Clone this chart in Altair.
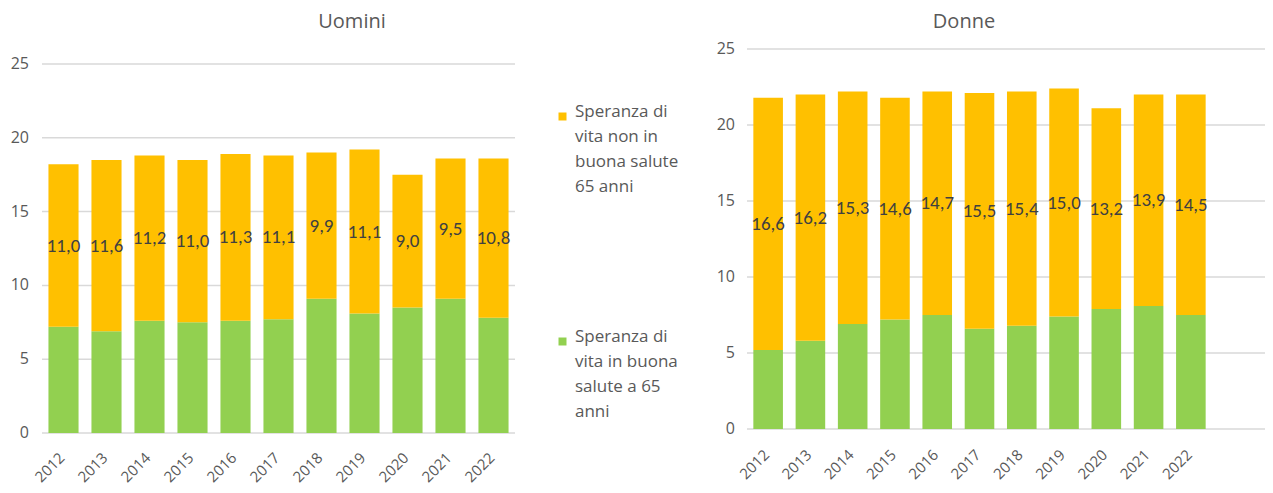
import altair as alt
import pandas as pd

anni = [str(y) for y in range(2012, 2023)]
uomini_buona = [7.2, 6.9, 7.6, 7.5, 7.6, 7.7, 9.1, 8.1, 8.5, 9.1, 7.8]
uomini_non = [11.0, 11.6, 11.2, 11.0, 11.3, 11.1, 9.9, 11.1, 9.0, 9.5, 10.8]
donne_buona = [5.2, 5.8, 6.9, 7.2, 7.5, 6.6, 6.8, 7.4, 7.9, 8.1, 7.5]
donne_non = [16.6, 16.2, 15.3, 14.6, 14.7, 15.5, 15.4, 15.0, 13.2, 13.9, 14.5]
tick_values = [0, 5, 10, 15, 20, 25]

serie_non = "Speranza di vita non in buona salute 65 anni"
serie_buona = "Speranza di vita in buona salute a 65 anni"
colori = ["#FFC000", "#92D050"]

GRAY = "#595959"
FONT = "Open Sans"
LABEL_FONT = "Carlito, 'Liberation Sans Narrow', 'Open Sans'"


def long_df(buona, non):
    rows = []
    for a, b, n in zip(anni, buona, non):
        rows.append(dict(anno=a, serie=serie_buona, valore=b, y0=0.0, y1=b))
        rows.append(dict(anno=a, serie=serie_non, valore=n, y0=b, y1=b + n))
    return pd.DataFrame(rows)


def panel(titolo, buona, non, xr, yr, grid_x1, grid_x2, ylab_x, xlab_y, title_x, title_y, show_legend):
    df = long_df(buona, non)
    xs = alt.Scale(domain=anni, range=xr, paddingInner=0.3, paddingOuter=0.15)
    ys = alt.Scale(domain=[0, 25], range=yr, nice=False, zero=True)
    X = alt.X("anno:N", scale=xs, axis=None)

    if show_legend:
        legend = alt.Legend(
            orient="none", legendX=546, legendY=100, title=None,
            symbolType="square", symbolSize=64, symbolStrokeWidth=0,
            labelFont=FONT, labelFontSize=17, labelColor=GRAY, labelLimit=300,
            labelBaseline="alphabetic", labelOffset=4, rowPadding=132, padding=0,
            labelExpr=(
                "datum.label == '" + serie_non + "' ? "
                "['Speranza di', 'vita non in', 'buona salute', '65 anni'] : "
                "['Speranza di', 'vita in buona', 'salute a 65', 'anni']"
            ),
        )
    else:
        legend = None

    grid = alt.Chart(pd.DataFrame({"tick": tick_values})).mark_rule(
        color="#D9D9D9", strokeWidth=1.5
    ).encode(
        y=alt.Y("tick:Q", scale=ys, axis=None),
        x=alt.value(grid_x1), x2=alt.value(grid_x2),
    )
    ylabels = alt.Chart(pd.DataFrame({"tick": tick_values})).mark_text(
        align="right", baseline="middle", font=FONT, fontSize=16, color=GRAY
    ).encode(
        y=alt.Y("tick:Q", scale=ys, axis=None),
        x=alt.value(ylab_x),
        text="tick:Q",
    )
    bars = alt.Chart(df).mark_bar().encode(
        x=X,
        y=alt.Y("y0:Q", scale=ys, axis=None),
        y2="y1:Q",
        color=alt.Color("serie:N", scale=alt.Scale(domain=[serie_non, serie_buona], range=colori), legend=legend),
    )
    labels = alt.Chart(df).transform_filter(
        alt.datum.serie == serie_non
    ).transform_calculate(
        mid="(datum.y0 + datum.y1) / 2",
        lab="replace(format(datum.valore, '.1f'), '.', ',')",
    ).mark_text(
        font=LABEL_FONT, fontSize=19, color="#404040", baseline="middle"
    ).encode(
        x=X,
        y=alt.Y("mid:Q", scale=ys, axis=None),
        text="lab:N",
    )
    xlabels = alt.Chart(pd.DataFrame({"anno": anni})).mark_text(
        angle=315, align="right", baseline="middle", font=FONT, fontSize=15, color=GRAY, dx=-2
    ).encode(
        x=X,
        y=alt.value(xlab_y),
        text="anno:N",
    )
    title = alt.Chart(pd.DataFrame({"t": [titolo]})).mark_text(
        font=FONT, fontSize=20, color=GRAY, baseline="middle", align="center"
    ).encode(
        x=alt.value(title_x), y=alt.value(title_y), text="t:N"
    )
    return alt.layer(grid, bars, labels, ylabels, xlabels, title)


left = panel("Uomini", uomini_buona, uomini_non, [34, 507], [425, 56], 34, 507, 21, 446, 344, 14, True)
right = panel("Donne", donne_buona, donne_non, [739, 1204], [421, 41], 739, 1265, 727, 443, 956, 14, False)

chart = alt.layer(left, right).resolve_scale(x="independent", y="independent").properties(
    width=1257, height=477, padding=0, autosize=alt.AutoSizeParams(type="none")
).configure(
    style={"guide-label": {"lineHeight": 25}},
    view=alt.ViewConfig(stroke=None),
)

chart.save("out.html", embed_options={"renderer": "svg", "actions": False})
